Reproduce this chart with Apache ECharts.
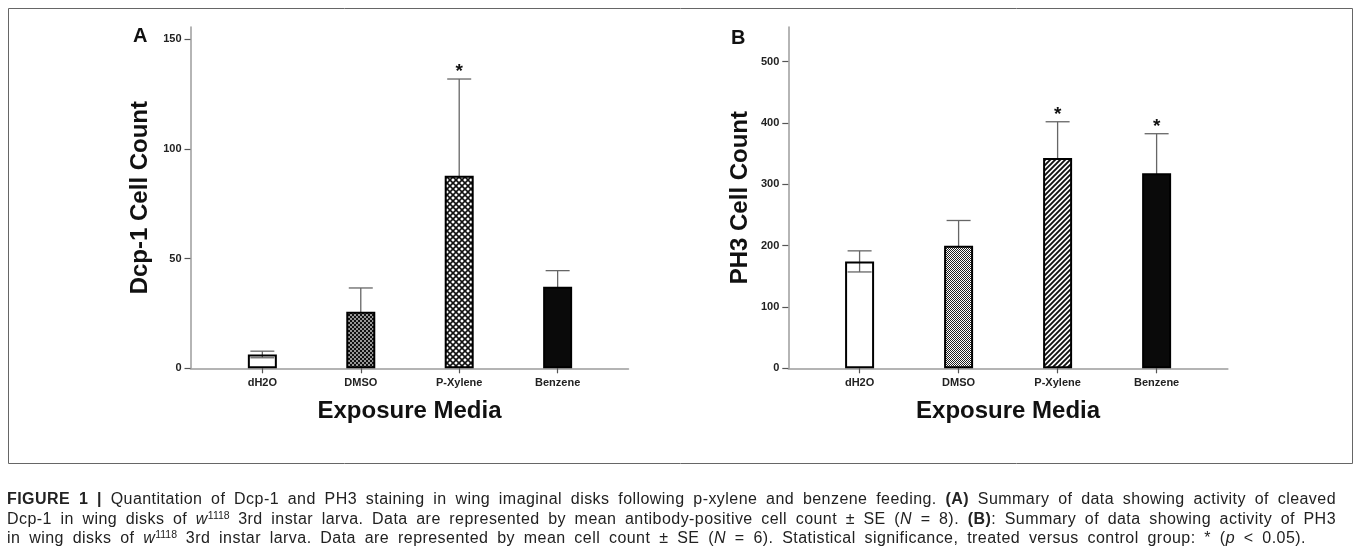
<!DOCTYPE html>
<html>
<head>
<meta charset="utf-8">
<script src="https://cdn.jsdelivr.net/npm/echarts@6/dist/echarts.min.js"></script>
<style>
html,body{margin:0;padding:0;background:#fff;}
#chart{position:absolute;left:0;top:0;width:1357px;height:556px;}
#cap{position:absolute;left:7px;top:489px;font-family:"Liberation Sans",Arial,sans-serif;font-size:16px;line-height:19.5px;color:#222;letter-spacing:0.45px;}
.ln{display:block;text-align:justify;text-align-last:justify;}
.ln b{font-weight:bold;}
sup{font-size:10.5px;line-height:0;vertical-align:5px;letter-spacing:0;}
</style>
</head>
<body>
<div id="chart"></div>
<div id="cap">
<div class="ln" style="width:1329px"><b>FIGURE 1 |</b> Quantitation of Dcp-1 and PH3 staining in wing imaginal disks following p-xylene and benzene feeding. <b>(A)</b> Summary of data showing activity of cleaved</div>
<div class="ln" style="width:1329px">Dcp-1 in wing disks of <i>w</i><sup>1118</sup> 3rd instar larva. Data are represented by mean antibody-positive cell count ± SE (<i>N</i> = 8). <b>(B)</b>: Summary of data showing activity of PH3</div>
<div class="ln" style="width:1299px">in wing disks of <i>w</i><sup>1118</sup> 3rd instar larva. Data are represented by mean cell count ± SE (<i>N</i> = 6). Statistical significance, treated versus control group: * (<i>p</i> &lt; 0.05).</div>
</div>
<script>
// ---- data ----
const categories = ['dH2O', 'DMSO', 'P-Xylene', 'Benzene'];
const dcpMean = [6.3, 25.8, 87.7, 37.1];
const dcpSE = [1.5, 10.8, 44.1, 7.4];
const dcpSig = ['', '', '*', ''];
const ph3Mean = [174.3, 200, 343, 318];
const ph3SE = [17.2, 41, 59, 64.5];
const ph3Sig = ['', '', '*', '*'];
const dcpTicks = [0, 50, 100, 150];
const ph3Ticks = [0, 100, 200, 300, 400, 500];
const catIndex = [0, 1, 2, 3];

// ---- patterns ----
function tile(w, h, draw) {
  const c = document.createElement('canvas');
  c.width = w; c.height = h;
  const g = c.getContext('2d');
  draw(g, w, h);
  return c;
}
const patDotsA = tile(4, 4, g => {
  g.fillStyle = '#111'; g.fillRect(0, 0, 4, 4);
  g.fillStyle = '#fff'; g.fillRect(0.25, 0.25, 1.5, 1.5); g.fillRect(2.25, 2.25, 1.5, 1.5);
});
const patLattice = tile(6, 6, g => {
  g.fillStyle = '#fff'; g.fillRect(0, 0, 6, 6);
  g.strokeStyle = '#111'; g.lineWidth = 1.6;
  g.beginPath(); g.moveTo(0, 0); g.lineTo(6, 6); g.moveTo(6, 0); g.lineTo(0, 6); g.stroke();
});
const patCheckB = tile(2, 2, g => {
  g.fillStyle = '#fff'; g.fillRect(0, 0, 2, 2);
  g.fillStyle = '#222'; g.fillRect(0, 0, 1, 1); g.fillRect(1, 1, 1, 1);
});
const patStripes = tile(5, 5, g => {
  g.fillStyle = '#fff'; g.fillRect(0, 0, 5, 5);
  g.strokeStyle = '#111'; g.lineWidth = 1.9;
  g.beginPath();
  g.moveTo(-1, 6); g.lineTo(6, -1);
  g.moveTo(-3.5, 3.5); g.lineTo(3.5, -3.5);
  g.moveTo(1.5, 8.5); g.lineTo(8.5, 1.5);
  g.stroke();
});
const fillsA = ['rgba(255,255,255,0)', {image: patDotsA, repeat: 'repeat'}, {image: patLattice, repeat: 'repeat'}, '#0a0a0a'];
const fillsB = ['rgba(255,255,255,0)', {image: patCheckB, repeat: 'repeat'}, {image: patStripes, repeat: 'repeat'}, '#0a0a0a'];

const FONT = '"Liberation Sans", Arial, Helvetica, sans-serif';

function xAxisCfg(gridIndex, min, max) {
  return {
    type: 'value', gridIndex, min, max,
    axisLine: {show: true, onZero: false, lineStyle: {color: '#9c9c9c', width: 1.5}},
    axisTick: {show: true, customValues: catIndex, length: 5, lineStyle: {color: '#555', width: 1.2}},
    axisLabel: {customValues: catIndex, formatter: v => categories[Math.round(v)], margin: 9,
      fontFamily: FONT, fontWeight: 'bold', fontSize: 11, color: '#222'},
    splitLine: {show: false},
    name: 'Exposure Media', nameLocation: 'middle', nameGap: 31,
    nameTextStyle: {fontFamily: FONT, fontWeight: 'bold', fontSize: 24, color: '#111'}
  };
}
function yAxisCfg(gridIndex, max, ticks, name, gap) {
  return {
    type: 'value', gridIndex, min: 0, max,
    axisLine: {show: true, onZero: false, lineStyle: {color: '#9c9c9c', width: 1.5}},
    axisTick: {show: true, customValues: ticks, length: 6, lineStyle: {color: '#555', width: 1.2}},
    axisLabel: {customValues: ticks, margin: 9, fontFamily: FONT, fontWeight: 'bold', fontSize: 11, color: '#222'},
    splitLine: {show: false},
    name, nameLocation: 'middle', nameGap: gap, nameRotate: 90,
    nameTextStyle: {fontFamily: FONT, fontWeight: 'bold', fontSize: 24, color: '#111'}
  };
}

function barSeries(idx, means, fills) {
  return {
    type: 'bar', xAxisIndex: idx, yAxisIndex: idx, barWidth: 29, z: 3,
    data: means.map((v, i) => ({value: [i, v], itemStyle: {color: fills[i], borderColor: '#000', borderWidth: 2}})),
    silent: true
  };
}
function errSeries(idx, means, ses) {
  return {
    type: 'custom', xAxisIndex: idx, yAxisIndex: idx, z: 2, silent: true,
    data: means.map((v, i) => [i, v, ses[i]]),
    renderItem: (params, api) => {
      const x = api.value(0), v = api.value(1), se = api.value(2);
      const t = api.coord([x, v + se]), b = api.coord([x, v - se]);
      const hw = 12, st = {stroke: '#666', lineWidth: 1.3};
      return {type: 'group', children: [
        {type: 'line', shape: {x1: t[0], y1: t[1], x2: b[0], y2: b[1]}, style: st},
        {type: 'line', shape: {x1: t[0] - hw, y1: t[1], x2: t[0] + hw, y2: t[1]}, style: st},
        {type: 'line', shape: {x1: b[0] - hw, y1: b[1], x2: b[0] + hw, y2: b[1]}, style: st}
      ]};
    }
  };
}
function sigSeries(idx, means, ses, sig) {
  return {
    type: 'custom', xAxisIndex: idx, yAxisIndex: idx, z: 4, silent: true,
    data: means.map((v, i) => [i, v + ses[i]]),
    renderItem: (params, api) => {
      const s = sig[params.dataIndex];
      if (!s) return null;
      const p = api.coord([api.value(0), api.value(1)]);
      return {type: 'text', x: p[0], y: p[1] - 7,
        style: {text: s, textAlign: 'center', textVerticalAlign: 'middle', fill: '#111',
          font: 'bold 19px ' + FONT}};
    }
  };
}

const chart = echarts.init(document.getElementById('chart'));
chart.setOption({
  animation: false,
  backgroundColor: '#fff',
  title: [
    {text: 'A', left: 133, top: 26, padding: 0, textStyle: {fontFamily: FONT, fontWeight: 'bold', fontSize: 20, color: '#111'}},
    {text: 'B', left: 731, top: 28, padding: 0, textStyle: {fontFamily: FONT, fontWeight: 'bold', fontSize: 20, color: '#111'}}
  ],
  graphic: [{type: 'rect', silent: true, z: -10,
    shape: {x: 8.5, y: 8.5, width: 1344, height: 455},
    style: {fill: 'none', stroke: '#666', lineWidth: 1}}],
  grid: [
    {left: 190.5, top: 27, width: 438, height: 341.3},
    {left: 788.3, top: 27, width: 439.6, height: 341.3}
  ],
  xAxis: [xAxisCfg(0, -0.73, 3.72), xAxisCfg(1, -0.72, 3.72)],
  yAxis: [yAxisCfg(0, 155.5, dcpTicks, 'Dcp-1 Cell Count', 38), yAxisCfg(1, 556.5, ph3Ticks, 'PH3 Cell Count', 36)],
  series: [
    errSeries(0, dcpMean, dcpSE), barSeries(0, dcpMean, fillsA), sigSeries(0, dcpMean, dcpSE, dcpSig),
    errSeries(1, ph3Mean, ph3SE), barSeries(1, ph3Mean, fillsB), sigSeries(1, ph3Mean, ph3SE, ph3Sig)
  ]
});
</script>
</body>
</html>
